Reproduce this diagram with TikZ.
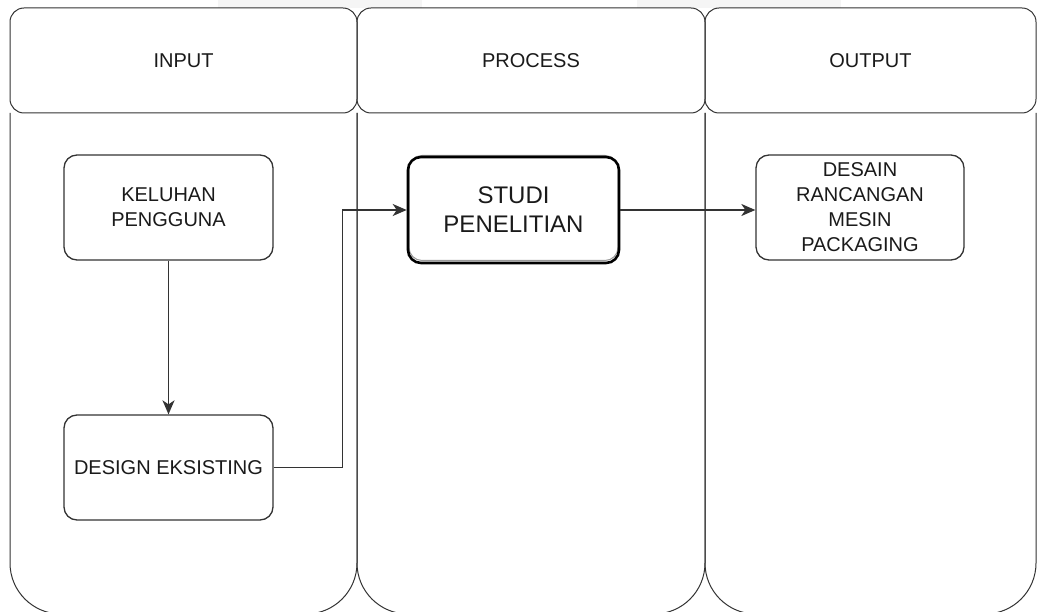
\documentclass[tikz,border=0pt]{standalone}
\usepackage{fontspec}
\setmainfont{Liberation Sans}
\usetikzlibrary{positioning}
\usetikzlibrary{arrows.meta}
\definecolor{lineclr}{HTML}{333333}
\definecolor{txtclr}{HTML}{1A1A1A}
\tikzset{
	every node/.style={align=center, text=txtclr, inner sep=0pt},
	lane/.style = {draw=lineclr, line width=1pt, rounded corners=51pt},
	header/.style = {draw=lineclr, line width=1pt, rounded corners=14pt, minimum height=105pt, font=\fontsize{20}{24}\selectfont},
	box/.style = {draw=lineclr, line width=1.3pt, rounded corners=13pt, minimum width=209pt, minimum height=105pt, font=\fontsize{20}{25}\selectfont},
	mainbox/.style = {box, draw=black, line width=2.6pt, minimum width=211pt, minimum height=106pt, font=\fontsize{24}{29}\selectfont},
	flow/.style = {-{Stealth[length=14pt, width=12pt, inset=4pt]}, line width=1.4pt, draw=lineclr}
}

\begin{document}
\begin{tikzpicture}[x=1pt, y=-1pt]
	\useasboundingbox (0,0) rectangle (1038,612);
	\fill[gray!8] (218,0) rectangle (422,8);
	\fill[gray!8] (637,0) rectangle (841,8);

	% Lanes
	\draw[lane] (10,113) -- (10,614) -- (357,614) -- (357,113);
	\draw[lane] (357,113) -- (357,614) -- (705,614) -- (705,113);
	\draw[lane] (705,113) -- (705,614) -- (1036,614) -- (1036,113);
	\node (hinput) [header, minimum width=347pt] at (183.5,60.5) {INPUT};
	\node (hprocess) [header, minimum width=348pt] at (531,60.5) {PROCESS};
	\node (houtput) [header, minimum width=331pt] at (870.5,60.5) {OUTPUT};

	% Steps
	\node (keluhan) [box] at (168.5,207.5) {KELUHAN\\PENGGUNA};
	\node (eksisting) [box] at (168.5,467.5) {DESIGN EKSISTING};
	\node (studiback) [box, draw=black!40, line width=1pt, minimum width=209pt] at (513.5,208) {};
	\node (studi) [mainbox] at (513.5,210) {STUDI\\PENELITIAN};
	\node (desain) [box, minimum width=208pt] at (860,207.5) {DESAIN\\RANCANGAN\\MESIN\\PACKAGING};

	\path (keluhan) edge[flow] (eksisting);
	\draw[flow] (eksisting.east) -- ++(69,0) |- (studi.west);
	\draw[flow] (studi.east) -- (studi.east -| desain.west);
\end{tikzpicture}
\end{document}
